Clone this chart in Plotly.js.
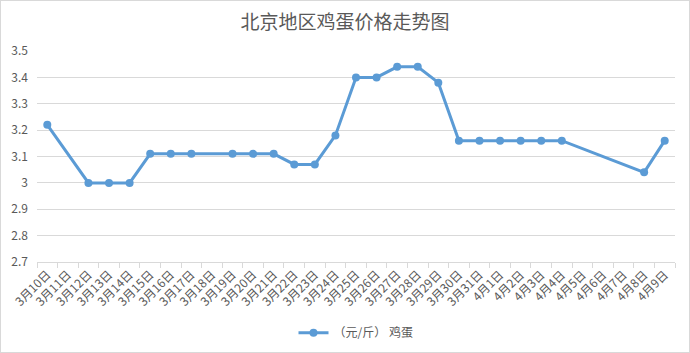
<!DOCTYPE html>
<html><head><meta charset="utf-8">
<script src="https://cdn.plot.ly/plotly-3.0.1.min.js"></script>
<style>html,body{margin:0;padding:0;background:#fff}#c{width:690px;height:353px;box-sizing:border-box;border:1px solid #d9d9d9}</style>
</head><body><div id="c"></div>
<script>
const dates = ["3月10日","3月11日","3月12日","3月13日","3月14日","3月15日","3月16日","3月17日","3月18日","3月19日","3月20日","3月21日","3月22日","3月23日","3月24日","3月25日","3月26日","3月27日","3月28日","3月29日","3月30日","3月31日","4月1日","4月2日","4月3日","4月4日","4月5日","4月6日","4月7日","4月8日","4月9日"];
const eggPrice = [3.22,null,3.00,3.00,3.00,3.11,3.11,3.11,null,3.11,3.11,3.11,3.07,3.07,3.18,3.40,3.40,3.44,3.44,3.38,3.16,3.16,3.16,3.16,3.16,3.16,null,null,null,3.04,3.16];
const seriesName = "（元/斤） 鸡蛋";
const titleText = "北京地区鸡蛋价格走势图";
const yTicks = [2.7,2.8,2.9,3,3.1,3.2,3.3,3.4,3.5];

const font = "'Noto Sans CJK SC', 'Microsoft YaHei', sans-serif";
Plotly.newPlot('c', [{
  x: dates, y: eggPrice, name: seriesName, type: 'scatter', mode: 'lines+markers',
  connectgaps: true,
  line: {color: '#5b9bd5', width: 3},
  marker: {color: '#5b9bd5', size: 8}
}], {
  width: 688, height: 351,
  margin: {l: 36, r: 14, t: 50, b: 90, pad: 0},
  paper_bgcolor: '#fff', plot_bgcolor: '#fff',
  font: {family: font, color: '#595959', size: 12},
  title: {text: titleText, font: {family: font, size: 19, color: '#595959'}, x: 0.5, xanchor: 'center', y: 0.94, yref: 'container', yanchor: 'middle'},
  showlegend: true,
  legend: {orientation: 'h', x: 0.5, xanchor: 'center', y: 0.055, yref: 'container', yanchor: 'middle', font: {size: 12, color: '#595959'}},
  xaxis: {type: 'category', range: [-0.5, dates.length - 0.5], tickangle: -45, tickson: 'boundaries', ticks: 'outside', ticklen: 5, tickcolor: '#d9d9d9', automargin: false,
    showline: true, linecolor: '#d9d9d9', linewidth: 1, showgrid: false, tickfont: {size: 12, color: '#595959'}, fixedrange: true},
  yaxis: {range: [2.7, 3.5], tickvals: yTicks, ticktext: yTicks.map(v => String(v)), showgrid: true, gridcolor: '#d9d9d9', automargin: false,
    zeroline: false, showline: false, ticks: '', tickfont: {size: 12, color: '#595959'}, ticklabelstandoff: 8}
}, {staticPlot: true});
</script></body></html>
